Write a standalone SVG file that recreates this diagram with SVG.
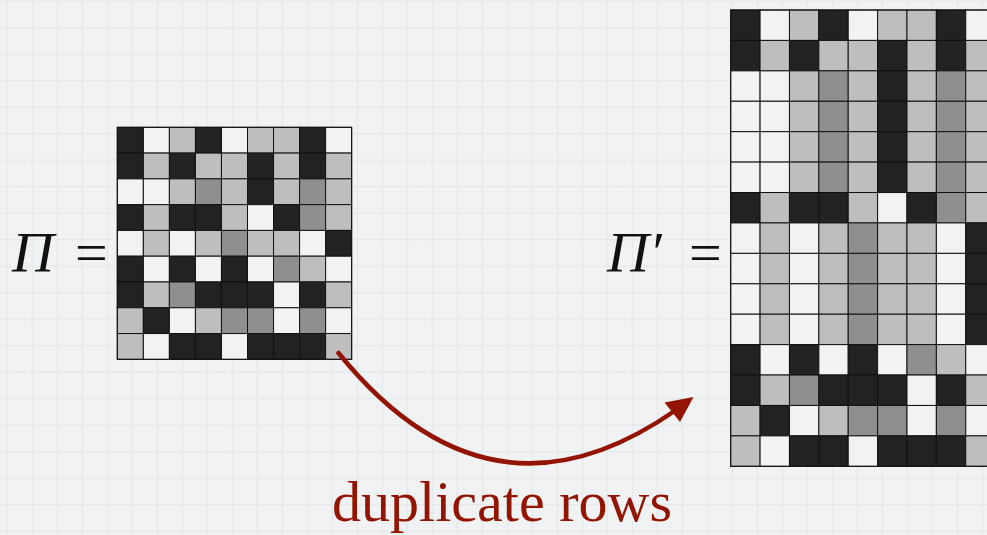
<svg xmlns="http://www.w3.org/2000/svg" width="987" height="535" viewBox="0 0 987 535">
<defs>
<style>
.d{fill:#222222}.w{fill:#f2f2f2}.l{fill:#bebebe}.m{fill:#8f8f8f}
.gl rect{stroke:#111;stroke-width:1}
.frame{fill:none;stroke:#555;stroke-width:1.5}
.math{font-family:"Liberation Serif","DejaVu Serif",serif;font-size:58px;fill:#111}
.lab{font-family:"Liberation Serif","DejaVu Serif",serif;font-size:58px;fill:#931400}
.conn{fill:none;stroke:#931400;stroke-width:4.5;stroke-linecap:round}
</style>
<pattern id="paper" patternUnits="userSpaceOnUse" x="6.7" y="0.5" width="25" height="26.5">
<rect width="25" height="26.5" fill="#f1f2f3"/>
<line x1="0.5" y1="0" x2="0.5" y2="26.5" stroke="#e2e8eb" stroke-width="1.5"/>
<line x1="0" y1="0.5" x2="25" y2="0.5" stroke="#e2e8eb" stroke-width="1.5"/>
</pattern>
</defs>
<rect width="987" height="535" fill="url(#paper)"/>

<g id="label-pi">
<text class="math" x="12" y="272" font-style="italic">Π</text>
<text class="math" x="75" y="272">=</text>
</g>

<g id="matrix-pi" class="gl" transform="translate(117.3,127.3)">
<g transform="translate(0,0)"><rect class="d" x="0" width="26.04" height="25.78"/><rect class="w" x="26.04" width="26.04" height="25.78"/><rect class="l" x="52.08" width="26.04" height="25.78"/><rect class="d" x="78.12" width="26.04" height="25.78"/><rect class="w" x="104.16" width="26.04" height="25.78"/><rect class="l" x="130.2" width="26.04" height="25.78"/><rect class="l" x="156.24" width="26.04" height="25.78"/><rect class="d" x="182.28" width="26.04" height="25.78"/><rect class="w" x="208.32" width="26.04" height="25.78"/></g>
<g transform="translate(0,25.78)"><rect class="d" x="0" width="26.04" height="25.78"/><rect class="l" x="26.04" width="26.04" height="25.78"/><rect class="d" x="52.08" width="26.04" height="25.78"/><rect class="l" x="78.12" width="26.04" height="25.78"/><rect class="l" x="104.16" width="26.04" height="25.78"/><rect class="d" x="130.2" width="26.04" height="25.78"/><rect class="l" x="156.24" width="26.04" height="25.78"/><rect class="d" x="182.28" width="26.04" height="25.78"/><rect class="l" x="208.32" width="26.04" height="25.78"/></g>
<g transform="translate(0,51.56)"><rect class="w" x="0" width="26.04" height="25.78"/><rect class="w" x="26.04" width="26.04" height="25.78"/><rect class="l" x="52.08" width="26.04" height="25.78"/><rect class="m" x="78.12" width="26.04" height="25.78"/><rect class="l" x="104.16" width="26.04" height="25.78"/><rect class="d" x="130.2" width="26.04" height="25.78"/><rect class="l" x="156.24" width="26.04" height="25.78"/><rect class="m" x="182.28" width="26.04" height="25.78"/><rect class="l" x="208.32" width="26.04" height="25.78"/></g>
<g transform="translate(0,77.34)"><rect class="d" x="0" width="26.04" height="25.78"/><rect class="l" x="26.04" width="26.04" height="25.78"/><rect class="d" x="52.08" width="26.04" height="25.78"/><rect class="d" x="78.12" width="26.04" height="25.78"/><rect class="l" x="104.16" width="26.04" height="25.78"/><rect class="w" x="130.2" width="26.04" height="25.78"/><rect class="d" x="156.24" width="26.04" height="25.78"/><rect class="m" x="182.28" width="26.04" height="25.78"/><rect class="l" x="208.32" width="26.04" height="25.78"/></g>
<g transform="translate(0,103.12)"><rect class="w" x="0" width="26.04" height="25.78"/><rect class="l" x="26.04" width="26.04" height="25.78"/><rect class="w" x="52.08" width="26.04" height="25.78"/><rect class="l" x="78.12" width="26.04" height="25.78"/><rect class="m" x="104.16" width="26.04" height="25.78"/><rect class="l" x="130.2" width="26.04" height="25.78"/><rect class="l" x="156.24" width="26.04" height="25.78"/><rect class="w" x="182.28" width="26.04" height="25.78"/><rect class="d" x="208.32" width="26.04" height="25.78"/></g>
<g transform="translate(0,128.9)"><rect class="d" x="0" width="26.04" height="25.78"/><rect class="w" x="26.04" width="26.04" height="25.78"/><rect class="d" x="52.08" width="26.04" height="25.78"/><rect class="w" x="78.12" width="26.04" height="25.78"/><rect class="d" x="104.16" width="26.04" height="25.78"/><rect class="w" x="130.2" width="26.04" height="25.78"/><rect class="m" x="156.24" width="26.04" height="25.78"/><rect class="l" x="182.28" width="26.04" height="25.78"/><rect class="w" x="208.32" width="26.04" height="25.78"/></g>
<g transform="translate(0,154.68)"><rect class="d" x="0" width="26.04" height="25.78"/><rect class="l" x="26.04" width="26.04" height="25.78"/><rect class="m" x="52.08" width="26.04" height="25.78"/><rect class="d" x="78.12" width="26.04" height="25.78"/><rect class="d" x="104.16" width="26.04" height="25.78"/><rect class="d" x="130.2" width="26.04" height="25.78"/><rect class="w" x="156.24" width="26.04" height="25.78"/><rect class="d" x="182.28" width="26.04" height="25.78"/><rect class="l" x="208.32" width="26.04" height="25.78"/></g>
<g transform="translate(0,180.46)"><rect class="l" x="0" width="26.04" height="25.78"/><rect class="d" x="26.04" width="26.04" height="25.78"/><rect class="w" x="52.08" width="26.04" height="25.78"/><rect class="l" x="78.12" width="26.04" height="25.78"/><rect class="m" x="104.16" width="26.04" height="25.78"/><rect class="m" x="130.2" width="26.04" height="25.78"/><rect class="w" x="156.24" width="26.04" height="25.78"/><rect class="m" x="182.28" width="26.04" height="25.78"/><rect class="w" x="208.32" width="26.04" height="25.78"/></g>
<g transform="translate(0,206.24)"><rect class="l" x="0" width="26.04" height="25.78"/><rect class="w" x="26.04" width="26.04" height="25.78"/><rect class="d" x="52.08" width="26.04" height="25.78"/><rect class="d" x="78.12" width="26.04" height="25.78"/><rect class="w" x="104.16" width="26.04" height="25.78"/><rect class="d" x="130.2" width="26.04" height="25.78"/><rect class="d" x="156.24" width="26.04" height="25.78"/><rect class="d" x="182.28" width="26.04" height="25.78"/><rect class="l" x="208.32" width="26.04" height="25.78"/></g>
<rect class="frame" x="0" y="0" width="234.36" height="232.02"/>
</g>

<g id="label-pi-prime">
<text class="math" x="607" y="272" font-style="italic">Π′</text>
<text class="math" x="689" y="272">=</text>
</g>

<g id="matrix-pi-prime" class="gl" transform="translate(730.7,10)">
<g transform="translate(0,0)"><rect class="d" x="0" width="29.38" height="30.42"/><rect class="w" x="29.38" width="29.38" height="30.42"/><rect class="l" x="58.76" width="29.38" height="30.42"/><rect class="d" x="88.14" width="29.38" height="30.42"/><rect class="w" x="117.52" width="29.38" height="30.42"/><rect class="l" x="146.9" width="29.38" height="30.42"/><rect class="l" x="176.28" width="29.38" height="30.42"/><rect class="d" x="205.66" width="29.38" height="30.42"/><rect class="w" x="235.04" width="29.38" height="30.42"/></g>
<g transform="translate(0,30.42)"><rect class="d" x="0" width="29.38" height="30.42"/><rect class="l" x="29.38" width="29.38" height="30.42"/><rect class="d" x="58.76" width="29.38" height="30.42"/><rect class="l" x="88.14" width="29.38" height="30.42"/><rect class="l" x="117.52" width="29.38" height="30.42"/><rect class="d" x="146.9" width="29.38" height="30.42"/><rect class="l" x="176.28" width="29.38" height="30.42"/><rect class="d" x="205.66" width="29.38" height="30.42"/><rect class="l" x="235.04" width="29.38" height="30.42"/></g>
<g transform="translate(0,60.84)"><rect class="w" x="0" width="29.38" height="30.42"/><rect class="w" x="29.38" width="29.38" height="30.42"/><rect class="l" x="58.76" width="29.38" height="30.42"/><rect class="m" x="88.14" width="29.38" height="30.42"/><rect class="l" x="117.52" width="29.38" height="30.42"/><rect class="d" x="146.9" width="29.38" height="30.42"/><rect class="l" x="176.28" width="29.38" height="30.42"/><rect class="m" x="205.66" width="29.38" height="30.42"/><rect class="l" x="235.04" width="29.38" height="30.42"/></g>
<g transform="translate(0,91.26)"><rect class="w" x="0" width="29.38" height="30.42"/><rect class="w" x="29.38" width="29.38" height="30.42"/><rect class="l" x="58.76" width="29.38" height="30.42"/><rect class="m" x="88.14" width="29.38" height="30.42"/><rect class="l" x="117.52" width="29.38" height="30.42"/><rect class="d" x="146.9" width="29.38" height="30.42"/><rect class="l" x="176.28" width="29.38" height="30.42"/><rect class="m" x="205.66" width="29.38" height="30.42"/><rect class="l" x="235.04" width="29.38" height="30.42"/></g>
<g transform="translate(0,121.68)"><rect class="w" x="0" width="29.38" height="30.42"/><rect class="w" x="29.38" width="29.38" height="30.42"/><rect class="l" x="58.76" width="29.38" height="30.42"/><rect class="m" x="88.14" width="29.38" height="30.42"/><rect class="l" x="117.52" width="29.38" height="30.42"/><rect class="d" x="146.9" width="29.38" height="30.42"/><rect class="l" x="176.28" width="29.38" height="30.42"/><rect class="m" x="205.66" width="29.38" height="30.42"/><rect class="l" x="235.04" width="29.38" height="30.42"/></g>
<g transform="translate(0,152.1)"><rect class="w" x="0" width="29.38" height="30.42"/><rect class="w" x="29.38" width="29.38" height="30.42"/><rect class="l" x="58.76" width="29.38" height="30.42"/><rect class="m" x="88.14" width="29.38" height="30.42"/><rect class="l" x="117.52" width="29.38" height="30.42"/><rect class="d" x="146.9" width="29.38" height="30.42"/><rect class="l" x="176.28" width="29.38" height="30.42"/><rect class="m" x="205.66" width="29.38" height="30.42"/><rect class="l" x="235.04" width="29.38" height="30.42"/></g>
<g transform="translate(0,182.52)"><rect class="d" x="0" width="29.38" height="30.42"/><rect class="l" x="29.38" width="29.38" height="30.42"/><rect class="d" x="58.76" width="29.38" height="30.42"/><rect class="d" x="88.14" width="29.38" height="30.42"/><rect class="l" x="117.52" width="29.38" height="30.42"/><rect class="w" x="146.9" width="29.38" height="30.42"/><rect class="d" x="176.28" width="29.38" height="30.42"/><rect class="m" x="205.66" width="29.38" height="30.42"/><rect class="l" x="235.04" width="29.38" height="30.42"/></g>
<g transform="translate(0,212.94)"><rect class="w" x="0" width="29.38" height="30.42"/><rect class="l" x="29.38" width="29.38" height="30.42"/><rect class="w" x="58.76" width="29.38" height="30.42"/><rect class="l" x="88.14" width="29.38" height="30.42"/><rect class="m" x="117.52" width="29.38" height="30.42"/><rect class="l" x="146.9" width="29.38" height="30.42"/><rect class="l" x="176.28" width="29.38" height="30.42"/><rect class="w" x="205.66" width="29.38" height="30.42"/><rect class="d" x="235.04" width="29.38" height="30.42"/></g>
<g transform="translate(0,243.36)"><rect class="w" x="0" width="29.38" height="30.42"/><rect class="l" x="29.38" width="29.38" height="30.42"/><rect class="w" x="58.76" width="29.38" height="30.42"/><rect class="l" x="88.14" width="29.38" height="30.42"/><rect class="m" x="117.52" width="29.38" height="30.42"/><rect class="l" x="146.9" width="29.38" height="30.42"/><rect class="l" x="176.28" width="29.38" height="30.42"/><rect class="w" x="205.66" width="29.38" height="30.42"/><rect class="d" x="235.04" width="29.38" height="30.42"/></g>
<g transform="translate(0,273.78)"><rect class="w" x="0" width="29.38" height="30.42"/><rect class="l" x="29.38" width="29.38" height="30.42"/><rect class="w" x="58.76" width="29.38" height="30.42"/><rect class="l" x="88.14" width="29.38" height="30.42"/><rect class="m" x="117.52" width="29.38" height="30.42"/><rect class="l" x="146.9" width="29.38" height="30.42"/><rect class="l" x="176.28" width="29.38" height="30.42"/><rect class="w" x="205.66" width="29.38" height="30.42"/><rect class="d" x="235.04" width="29.38" height="30.42"/></g>
<g transform="translate(0,304.2)"><rect class="w" x="0" width="29.38" height="30.42"/><rect class="l" x="29.38" width="29.38" height="30.42"/><rect class="w" x="58.76" width="29.38" height="30.42"/><rect class="l" x="88.14" width="29.38" height="30.42"/><rect class="m" x="117.52" width="29.38" height="30.42"/><rect class="l" x="146.9" width="29.38" height="30.42"/><rect class="l" x="176.28" width="29.38" height="30.42"/><rect class="w" x="205.66" width="29.38" height="30.42"/><rect class="d" x="235.04" width="29.38" height="30.42"/></g>
<g transform="translate(0,334.62)"><rect class="d" x="0" width="29.38" height="30.42"/><rect class="w" x="29.38" width="29.38" height="30.42"/><rect class="d" x="58.76" width="29.38" height="30.42"/><rect class="w" x="88.14" width="29.38" height="30.42"/><rect class="d" x="117.52" width="29.38" height="30.42"/><rect class="w" x="146.9" width="29.38" height="30.42"/><rect class="m" x="176.28" width="29.38" height="30.42"/><rect class="l" x="205.66" width="29.38" height="30.42"/><rect class="w" x="235.04" width="29.38" height="30.42"/></g>
<g transform="translate(0,365.04)"><rect class="d" x="0" width="29.38" height="30.42"/><rect class="l" x="29.38" width="29.38" height="30.42"/><rect class="m" x="58.76" width="29.38" height="30.42"/><rect class="d" x="88.14" width="29.38" height="30.42"/><rect class="d" x="117.52" width="29.38" height="30.42"/><rect class="d" x="146.9" width="29.38" height="30.42"/><rect class="w" x="176.28" width="29.38" height="30.42"/><rect class="d" x="205.66" width="29.38" height="30.42"/><rect class="l" x="235.04" width="29.38" height="30.42"/></g>
<g transform="translate(0,395.46)"><rect class="l" x="0" width="29.38" height="30.42"/><rect class="d" x="29.38" width="29.38" height="30.42"/><rect class="w" x="58.76" width="29.38" height="30.42"/><rect class="l" x="88.14" width="29.38" height="30.42"/><rect class="m" x="117.52" width="29.38" height="30.42"/><rect class="m" x="146.9" width="29.38" height="30.42"/><rect class="w" x="176.28" width="29.38" height="30.42"/><rect class="m" x="205.66" width="29.38" height="30.42"/><rect class="w" x="235.04" width="29.38" height="30.42"/></g>
<g transform="translate(0,425.88)"><rect class="l" x="0" width="29.38" height="30.42"/><rect class="w" x="29.38" width="29.38" height="30.42"/><rect class="d" x="58.76" width="29.38" height="30.42"/><rect class="d" x="88.14" width="29.38" height="30.42"/><rect class="w" x="117.52" width="29.38" height="30.42"/><rect class="d" x="146.9" width="29.38" height="30.42"/><rect class="d" x="176.28" width="29.38" height="30.42"/><rect class="d" x="205.66" width="29.38" height="30.42"/><rect class="l" x="235.04" width="29.38" height="30.42"/></g>
<rect class="frame" x="0" y="0" width="264.42" height="456.3"/>
</g>

<g id="connectors">
<path class="conn" d="M338.5,353 Q490,540 676,410"/>
<polygon points="693.5,397 664.5,402.5 680,422" fill="#931400"/>
</g>

<g id="label-duplicate">
<text class="lab" x="332" y="521" textLength="340" lengthAdjust="spacingAndGlyphs">duplicate rows</text>
</g>
</svg>
